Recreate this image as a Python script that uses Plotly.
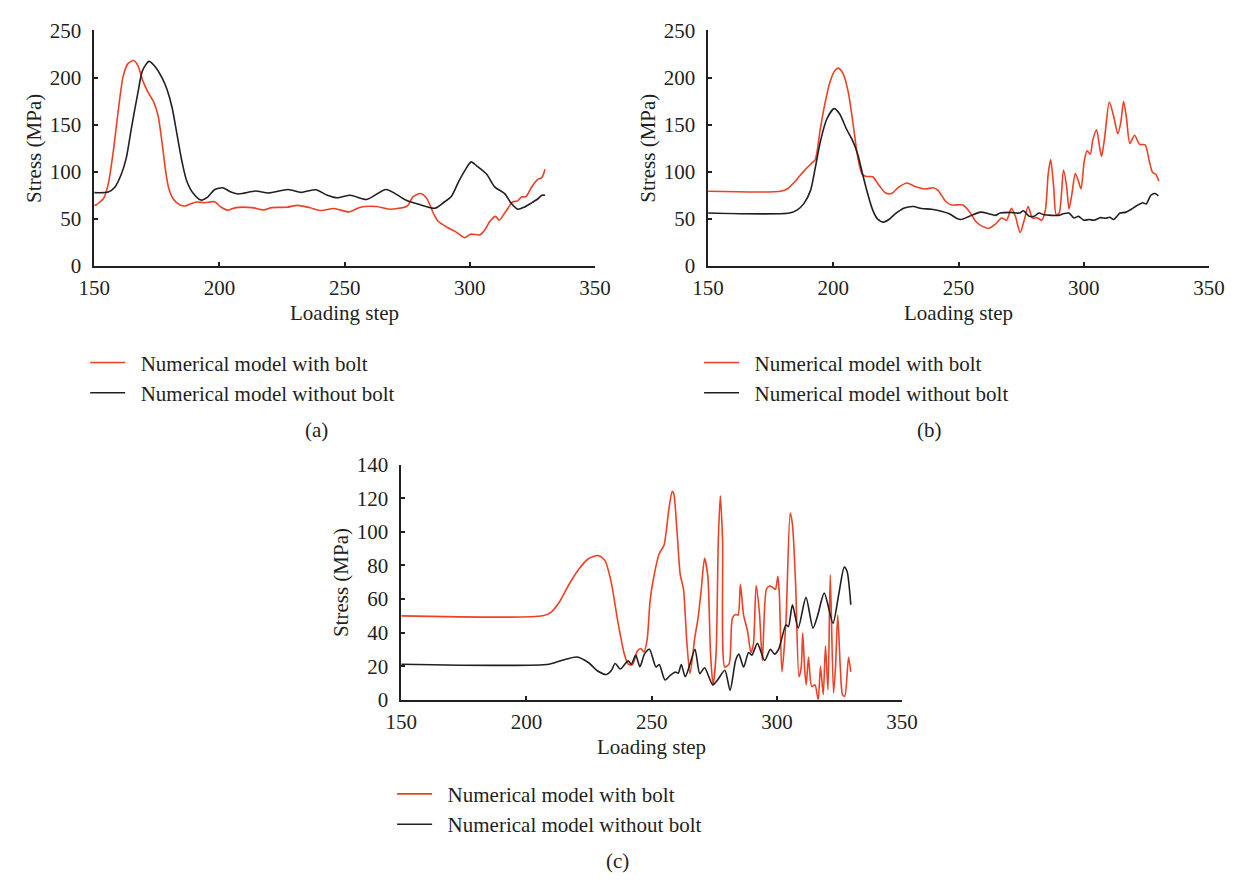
import plotly.graph_objects as go

# ---------------- data ----------------
# (a)
a_bolt_step = [150, 150.7, 153.7, 155.6, 157.6, 159.5, 161.5, 163.4, 165.7, 167.4, 169.3, 171.3, 173.9,
               175.5, 177.2, 178.5, 179.8, 181.7, 184.3, 186.3, 188.3, 190.9, 194.1, 198, 200.7, 203.3,
               206.5, 213, 217.6, 220.9, 226.8, 231.3, 235.9, 240.5, 245.7, 251.7, 256.2, 262.7, 267.9,
               275, 277.2, 280.2, 282.8, 285.4, 287.3, 291.2, 294.4, 297.9, 300.3, 304.1, 306.1, 308,
               310.2, 311.7, 313.9, 315.8, 317.1, 319, 320.7, 322.3, 324.6, 326.8, 328.8, 330]
a_bolt_val = [64, 64.5, 71.4, 86.9, 121.4, 162.8, 200.7, 214.5, 218, 212.8, 197.2, 185.2, 173.1,
              159.3, 128.3, 100.7, 81.7, 70.3, 64.5, 63.4, 65.5, 67.6, 66.9, 67.9, 62, 59,
              61.7, 61.7, 59.3, 61.7, 62, 64.1, 61.7, 58.6, 60.7, 57.2, 62, 62.8, 60,
              63.4, 73.1, 76.6, 71.4, 55.9, 47.2, 40.3, 35.9, 29.7, 33.4, 32.8, 38.6, 47.2,
              52.4, 48.3, 55.9, 63.4, 67.9, 68.6, 73.1, 73.1, 83.4, 91, 93.8, 102.4]

a_nobolt_step = [150, 155.6, 158.2, 160.8, 162.8, 164.8, 167.4, 169.3, 171.9, 174.5, 177.2, 179.1, 181.1,
                 183, 185, 186.9, 189.6, 192.6, 195.4, 198, 201.3, 204.6, 207.8, 214.4, 219.6, 227.4,
                 232.6, 238.5, 243.1, 247, 252.3, 258.8, 266.6, 274.4, 279.5, 286, 289.9, 292.5, 295.7,
                 298.3, 300.5, 302.8, 306.7, 310, 313.9, 316.5, 319, 321.6, 324.9, 326.8, 328.8, 330]
a_nobolt_val = [77.6, 78.3, 83.4, 97.2, 114.5, 145.5, 183.4, 207.6, 217.2, 211, 199, 186.9, 167.9,
                140.3, 111, 90.3, 76.6, 69.7, 73.1, 80.7, 82.8, 78.3, 76.2, 79.3, 77.2, 81,
                77.9, 80.7, 74.8, 72.1, 74.8, 70.3, 81, 69.7, 65.2, 61, 67.9, 73.1, 90.3,
                102.4, 110.3, 105.9, 97.2, 83.4, 76.6, 66.2, 60, 62, 67.2, 70.3, 74.8, 74.8]

# (b)
b_bolt_step = [150, 179, 181.7, 185, 188.3, 191.5, 192.8, 194.8, 196.7, 198.7, 200.7, 202, 203.9, 205.9,
               207.8, 209.8, 211.5, 213.1, 215.7, 218.3, 220.9, 223.2, 226.1, 229.4, 232.6, 236.6,
               239.8, 241.8, 245, 247.2, 251.7, 254.3, 256.8, 258.8, 262, 264.6, 267.2, 269.2, 271.1,
               272.7, 274.6, 276.3, 277.8, 279.5, 281.5, 283.2, 284.7, 285.8, 286.8, 288, 289, 290.2,
               291.9, 293.2, 294.1, 295.3, 296.6, 297.6, 298.9, 300.2, 301.3, 302.6, 303.6, 305.1,
               306.2, 307.1, 308.3, 310.2, 311.9, 313.6, 314.8, 315.9, 317.1, 318.4, 320.3, 322.3,
               324.5, 326.2, 327.5, 328.8, 330]
b_bolt_val = [79, 79, 81.7, 90.3, 100.7, 109.3, 112.8, 145.5, 173.1, 195.5, 207.6, 210, 204.1, 185.2,
              152.4, 114.5, 97.2, 94.8, 94.5, 85.2, 77.2, 76.6, 83.4, 87.9, 84.1, 81.4,
              82.8, 80, 67.9, 64.5, 64.5, 57.6, 47.2, 42.8, 39.7, 43.8, 50.7, 48.3, 61,
              52.4, 35.2, 49, 62.8, 50.7, 50.7, 48.3, 59.3, 97.2, 112.8, 83.4, 54.1, 55.9,
              101.7, 83.4, 60, 76.6, 97.9, 92.1, 81.7, 111, 122.1, 118.6, 133.4, 144.5,
              128.3, 116.2, 135.2, 173.8, 159.3, 140.3, 152.4, 174.8, 155.9, 130, 138.6, 129,
              128.3, 111, 99, 97.2, 89.7]

b_nobolt_step = [150, 182.4, 185.6, 188.3, 190.9, 192.8, 194.8, 197.4, 200.3, 202.6, 205.2, 207.8, 209.8,
                 211.7, 213.7, 215.7, 217.6, 220, 222.2, 224.8, 228.1, 232, 235.2, 239.2, 243.1, 246.3,
                 249, 250.9, 254.3, 258.8, 262, 264.6, 266.6, 270.5, 274.4, 275.9, 278.2, 280.2, 282.1,
                 284.1, 289.9, 291.8, 294.1, 296.1, 297.9, 300, 302.2, 304.1, 306.7, 308.7, 310.4,
                 311.9, 314.5, 316.5, 319, 321, 323.6, 324.9, 326.8, 328.5, 329.8]
b_nobolt_val = [55.9, 55.9, 59.3, 66.2, 80, 104.1, 131.7, 155.9, 166.9, 161, 145.5, 132.4, 117.9,
                97.2, 76.6, 59.3, 49.7, 46.2, 49, 55.2, 61, 62.8, 60.7, 60, 57.9, 55.2,
                50.7, 49, 52.4, 56.9, 55.2, 53.4, 55.9, 56.6, 55.9, 58.3, 52.4, 52.4, 55.9,
                54.1, 53.4, 55.2, 55.9, 50.7, 52.4, 48.3, 49, 48.3, 51, 50.3, 51.4,
                49, 55.9, 56.6, 60, 63.4, 66.9, 65.5, 74.8, 76.6, 74.1]

# (c)
c_bolt_step = [150, 206.5, 209.8, 213, 216.9, 220.8, 224.7, 228.6, 231.3, 233.9, 236.5, 239.1, 240.6,
               242.3, 244.3, 245.6, 246.9, 248.2, 249.3, 250.4, 253, 254.9, 256.9, 258.2, 258.8, 260.1,
               261.4, 262.7, 264, 265.3, 267.2, 268.5, 269.8, 271.1, 272.4, 273.5, 274.5, 275.7, 276.6,
               277.4, 278.3, 279.2, 280.9, 282.2, 283.5, 284.5, 285.4, 286.7, 288.3, 289.6, 290.6,
               291.7, 293, 294.2, 295.8, 297.1, 298.4, 299.4, 300.4, 301, 302, 303.6, 305.3, 306.2,
               307.5, 308.8, 309.7, 310.3, 311.1, 311.7, 312.6, 313.9, 315.2, 316.5, 317.4, 318.5,
               319.4, 320.4, 321.3, 322.6, 323.4, 324.3, 325.3, 326.2, 327.1, 328.6, 329.5]
c_bolt_val = [50, 50, 52.1, 57.9, 68.5, 77.6, 84, 85.9, 83, 69.5, 46.3, 27, 21.2,
              20.9, 29, 30.5, 28.5, 36, 58, 69.7, 87, 92, 114, 124.1, 122.8, 100.6,
              74.5, 65.8, 35, 15.6, 36.9, 48.5, 65.8, 84.2, 73.6, 27.2, 8.9, 27.2, 94.8,
              121.5, 94.8, 19.5, 21.4, 48.5, 50.8, 50.4, 68.7, 50.4, 40.7, 28.2, 33,
              68.1, 52.3, 23.4, 65.8, 67.8, 66.8, 65.8, 73.6, 62, 16.6, 46.5, 111.2, 104.5,
              67.8, 13.7, 19.5, 39.8, 17.6, 8.9, 25.3, 7.9, 8.9, 0, 20, 3.1,
              32, 5.9, 74.5, 4, 19.5, 50.4, 19.5, 3.1, 2.1, 25.3, 16.6]

c_nobolt_step = [150, 209, 214.3, 220.2, 224.7, 228.6, 231.9, 233.9, 235.4, 237.5, 239.1, 240.6, 241.9,
                 243.6, 245.3, 247.1, 249.1, 251.7, 253, 255.3, 257.5, 259.5, 260.6, 261.8, 263.4,
                 265.3, 267.3, 269.2, 271.1, 274.4, 276.3, 279.2, 281.3, 283.5, 284.8, 286.7, 288.7,
                 290, 292.2, 295.1, 297.4, 299, 300.7, 303.6, 304.6, 306.2, 308.5, 311.6, 314.4,
                 316.3, 318.9, 322.4, 324.6, 326.9, 328, 329.5]
c_nobolt_val = [21.2, 21.2, 23.6, 25.5, 22.2, 17, 15.1, 17.4, 21.6, 18.3, 20.9, 23.2, 21.2,
                26.6, 19.7, 27.2, 30.1, 19.5, 21, 11.8, 14.7, 16.6, 15.8, 21, 13.7,
                21.4, 30.1, 15.6, 19.1, 8.9, 11.8, 17.6, 5.6, 23.4, 27.2, 19.5, 28.2,
                26.6, 33.6, 23.4, 30.1, 27.2, 30.1, 44.6, 43.6, 56.6, 42.7, 61, 42.7,
                50.4, 63.5, 45.6, 62, 79, 76.5, 56.6]

x_ticks = [150, 200, 250, 300, 350]
y_ticks_ab = [0, 50, 100, 150, 200, 250]
y_ticks_c = [0, 20, 40, 60, 80, 100, 120, 140]

name_bolt = "Numerical model with bolt"
name_nobolt = "Numerical model without bolt"
panel_tags = ["(a)", "(b)", "(c)"]

# ---------------- styling ----------------
W, H = 1250, 884
RED = "#EE4024"
INK = "#231F20"
FONT = "Liberation Serif"
FS = 21


def px(x):
    return x / W


def py(y):
    return 1 - y / H


fig = go.Figure()

panels = [
    # xaxis, yaxis, legend, bolt data, no-bolt data
    ("x", "y", "legend", (a_bolt_step, a_bolt_val), (a_nobolt_step, a_nobolt_val)),
    ("x2", "y2", "legend2", (b_bolt_step, b_bolt_val), (b_nobolt_step, b_nobolt_val)),
    ("x3", "y3", "legend3", (c_bolt_step, c_bolt_val), (c_nobolt_step, c_nobolt_val)),
]

pad = "\u00a0\u00a0"
for xa, ya, lg, (bs, bv), (ns, nv) in panels:
    fig.add_trace(go.Scatter(x=bs, y=bv, mode="lines", name=pad + name_bolt,
                             line=dict(color=RED, width=1.6, shape="spline", smoothing=0.7),
                             xaxis=xa, yaxis=ya, legend=lg))
    fig.add_trace(go.Scatter(x=ns, y=nv, mode="lines", name=pad + name_nobolt,
                             line=dict(color=INK, width=1.6, shape="spline", smoothing=0.7),
                             xaxis=xa, yaxis=ya, legend=lg))

# plot-area pixel boxes: (left, right, top, bottom)
boxes = {
    "a": (80.3, 594.3, 19.0, 260.7),
    "b": (710.3, 1224.3, 19.0, 260.7),
    "c": (395.4, 909.4, 465.3, 707.0),
}

axis_common = dict(
    showgrid=False, zeroline=False, showline=True, linecolor=INK, linewidth=1.5,
    ticks="inside", ticklen=4, tickwidth=1.5, tickcolor=INK,
    tickfont=dict(family=FONT, size=FS, color=INK),
)


def xaxis_cfg(box):
    l, r, t, b = box
    return dict(domain=[px(l), px(r)], range=[150, 350], tickvals=x_ticks,
                ticklabelstandoff=2, **axis_common)


def yaxis_cfg(box, ticks, top):
    l, r, t, b = box
    return dict(domain=[py(b), py(t)], range=[0, top], tickvals=ticks,
                ticklabelstandoff=7, **axis_common)


fig.update_layout(
    xaxis=dict(anchor="y", **xaxis_cfg(boxes["a"])),
    yaxis=dict(anchor="x", **yaxis_cfg(boxes["a"], y_ticks_ab, 250)),
    xaxis2=dict(anchor="y2", **xaxis_cfg(boxes["b"])),
    yaxis2=dict(anchor="x2", **yaxis_cfg(boxes["b"], y_ticks_ab, 250)),
    xaxis3=dict(anchor="y3", **xaxis_cfg(boxes["c"])),
    yaxis3=dict(anchor="x3", **yaxis_cfg(boxes["c"], y_ticks_c, 140)),
)

legend_common = dict(
    xanchor="left", yanchor="top", bgcolor="rgba(0,0,0,0)", borderwidth=0,
    font=dict(family=FONT, size=FS, color=INK), itemwidth=35,
    tracegroupgap=0,
)
fig.update_layout(
    legend=dict(x=px(71), y=py(339.5), **legend_common),
    legend2=dict(x=px(701), y=py(339.5), **legend_common),
    legend3=dict(x=px(386), y=py(783), **legend_common),
)

annotations = []
title_font = dict(family=FONT, size=FS, color=INK)
for key, tag, tag_xy in zip(["a", "b", "c"], panel_tags, [(308, 430), (938, 430), (617, 873)]):
    l, r, t, b = boxes[key]
    # x-axis title
    annotations.append(dict(text="Loading step", x=px((l + r) / 2), y=py(b + 49), xref="paper",
                            yref="paper", showarrow=False, font=title_font,
                            xanchor="center", yanchor="middle"))
    # y-axis title
    annotations.append(dict(text="Stress (MPa)", x=px(l - 62), y=py((t + b) / 2), xref="paper",
                            yref="paper", showarrow=False, font=title_font, textangle=-90,
                            xanchor="center", yanchor="middle"))
    # panel tag
    annotations.append(dict(text=tag, x=px(tag_xy[0]), y=py(tag_xy[1]), xref="paper",
                            yref="paper", showarrow=False, font=title_font,
                            xanchor="center", yanchor="middle"))

fig.update_layout(
    width=W, height=H, margin=dict(l=0, r=0, t=0, b=0),
    paper_bgcolor="white", plot_bgcolor="white",
    annotations=annotations,
    font=dict(family=FONT, color=INK),
)

fig.write_html("out.html")
